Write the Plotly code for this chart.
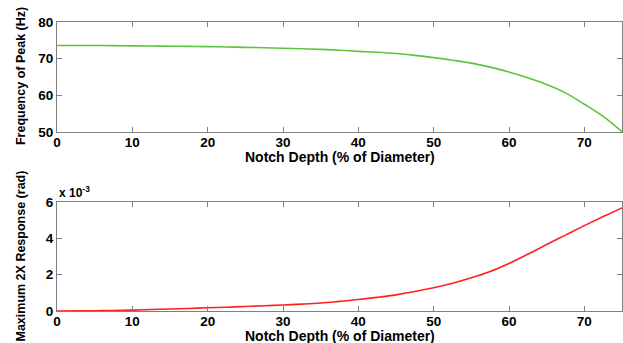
import plotly.graph_objects as go
from plotly.subplots import make_subplots

depth = [0, 2.5, 5, 7.5, 10, 12.5, 15, 17.5, 20, 22.5, 25, 27.5, 30, 32.5, 35, 37.5,
         40, 42.5, 45, 47.5, 50, 52.5, 55, 57.5, 60, 62.5, 65, 67.5, 70, 72.5, 75]
freq_peak = [73.6, 73.6, 73.6, 73.55, 73.5, 73.45, 73.4, 73.35, 73.3, 73.2, 73.1, 73.0,
             72.85, 72.7, 72.55, 72.3, 72.0, 71.75, 71.4, 70.9, 70.3, 69.6, 68.8, 67.7,
             66.4, 64.8, 63.0, 60.7, 57.6, 54.3, 50.1]
resp_2x = [0.0, 0.000005, 0.00001, 0.00003, 0.00005, 0.00008, 0.00011, 0.00014, 0.00018,
           0.00021, 0.00025, 0.00029, 0.00033, 0.00038, 0.00044, 0.00053, 0.00063,
           0.00075, 0.00089, 0.00107, 0.00128, 0.00153, 0.00183, 0.00218, 0.00262,
           0.00313, 0.00366, 0.00418, 0.0047, 0.0052, 0.00568]

x_ticks = [0, 10, 20, 30, 40, 50, 60, 70]
y1_ticks = [50, 60, 70, 80]
y2_ticks = [0, 0.002, 0.004, 0.006]
y2_ticktext = ["0", "2", "4", "6"]

fig = make_subplots(rows=2, cols=1)
fig.add_trace(go.Scatter(x=depth, y=freq_peak, mode="lines", line_shape="spline",
                         line=dict(color="#5ec43c", width=1.6)), row=1, col=1)
fig.add_trace(go.Scatter(x=depth, y=resp_2x, mode="lines", line_shape="spline",
                         line=dict(color="#ff2020", width=1.6)), row=2, col=1)

tick_font = dict(family="Liberation Sans", size=13.5, color="black", weight="bold")
axis_common = dict(showline=True, mirror="ticks", linecolor="#808080", linewidth=1,
                   ticks="inside", ticklen=5, tickcolor="#808080", showgrid=False,
                   zeroline=False, tickfont=tick_font)

fig.update_xaxes(**axis_common, range=[0, 75], tickvals=x_ticks, domain=[0, 1],
                 ticklabelstandoff=-2)
fig.update_yaxes(**axis_common)
fig.update_yaxes(range=[50, 80], tickvals=y1_ticks, domain=[0.619, 1], row=1, col=1)
fig.update_yaxes(range=[0, 0.006], tickvals=y2_ticks, ticktext=y2_ticktext,
                 domain=[0, 0.377], row=2, col=1)

xt_font = dict(family="Liberation Sans", size=14, color="black", weight="bold")
yt_font = dict(family="Liberation Sans", size=12.5, color="black", weight="bold")
for ypos in (0.532, -0.085):
    fig.add_annotation(text="Notch Depth (% of Diameter)", xref="paper", yref="paper",
                       x=0.5, y=ypos, xanchor="center", yanchor="middle",
                       showarrow=False, font=xt_font)
fig.add_annotation(text="Frequency of Peak (Hz)", xref="paper", yref="paper",
                   x=-0.0637, y=0.813, xanchor="center", yanchor="middle",
                   textangle=-90, showarrow=False, font=yt_font)
fig.add_annotation(text="Maximum 2X Response (rad)", xref="paper", yref="paper",
                   x=-0.0637, y=0.1886, xanchor="center", yanchor="middle",
                   textangle=-90, showarrow=False, font=yt_font)

fig.add_annotation(text="x 10<sup>-3</sup>", xref="paper", yref="paper", x=0.0, y=0.377,
                   xanchor="left", yanchor="bottom", showarrow=False,
                   font=dict(family="Liberation Sans", size=12, color="black", weight="bold"))

fig.update_layout(width=623, height=343, margin=dict(l=57, r=1, t=22, b=32),
                  plot_bgcolor="white", paper_bgcolor="white", showlegend=False)

fig.write_html("out.html")
